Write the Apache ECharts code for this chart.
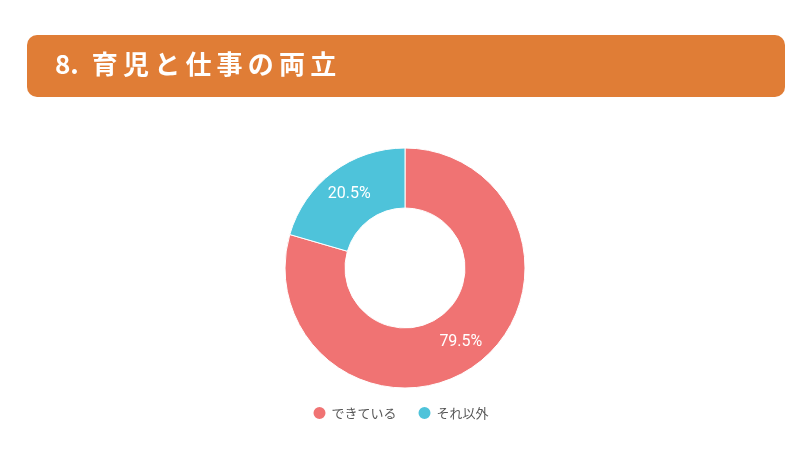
<!DOCTYPE html>
<html>
<head>
<meta charset="utf-8">
<script src="https://cdn.jsdelivr.net/npm/echarts@6/dist/echarts.min.js"></script>
<style>
  html, body { margin: 0; padding: 0; background: #fff; }
  #chart { width: 800px; height: 450px; }
</style>
</head>
<body>
<div id="chart"></div>
<script>
    var titleText = '8.\u2002育\u2009児\u2009と\u2009仕\u2009事\u2009の\u2009両\u2009立';
    var categories = ['できている', 'それ以外'];
    var values = [79.5, 20.5];
    var colors = ['#F07373', '#4EC3DA'];

    var chart = echarts.init(document.getElementById('chart'));

    var seriesData = categories.map(function (name, i) {
        return { name: name, value: values[i], itemStyle: { color: colors[i] } };
    });

    var option = {
        backgroundColor: '#ffffff',
        graphic: [
            {
                type: 'rect',
                left: 27,
                top: 35,
                shape: { width: 758, height: 62, r: 10 },
                style: { fill: '#E07D36' }
            },
            {
                type: 'text',
                left: 55,
                top: 51,
                style: {
                    text: titleText,
                    fill: '#ffffff',
                    font: 'bold 26px "Noto Sans CJK JP"'
                }
            }
        ],
        legend: {
            data: categories,
            left: 'center',
            top: 400,
            icon: 'circle',
            itemWidth: 14,
            itemHeight: 14,
            itemGap: 20,
            textStyle: { color: '#555', fontSize: 13, fontFamily: '"Noto Sans CJK JP"' }
        },
        series: [
            {
                type: 'pie',
                center: [405, 268],
                radius: [60, 120],
                startAngle: 90,
                clockwise: true,
                avoidLabelOverlap: false,
                itemStyle: { borderColor: '#ffffff', borderWidth: 1 },
                label: {
                    show: true,
                    position: 'inside',
                    formatter: function (p) { return p.value.toFixed(1) + '%'; },
                    color: '#ffffff',
                    fontSize: 16,
                    fontFamily: 'Roboto'
                },
                labelLine: { show: false },
                data: seriesData
            }
        ]
    };

    chart.setOption(option);
    window.addEventListener("resize", function () {
        chart.resize();
    });
</script>
</body>
</html>
